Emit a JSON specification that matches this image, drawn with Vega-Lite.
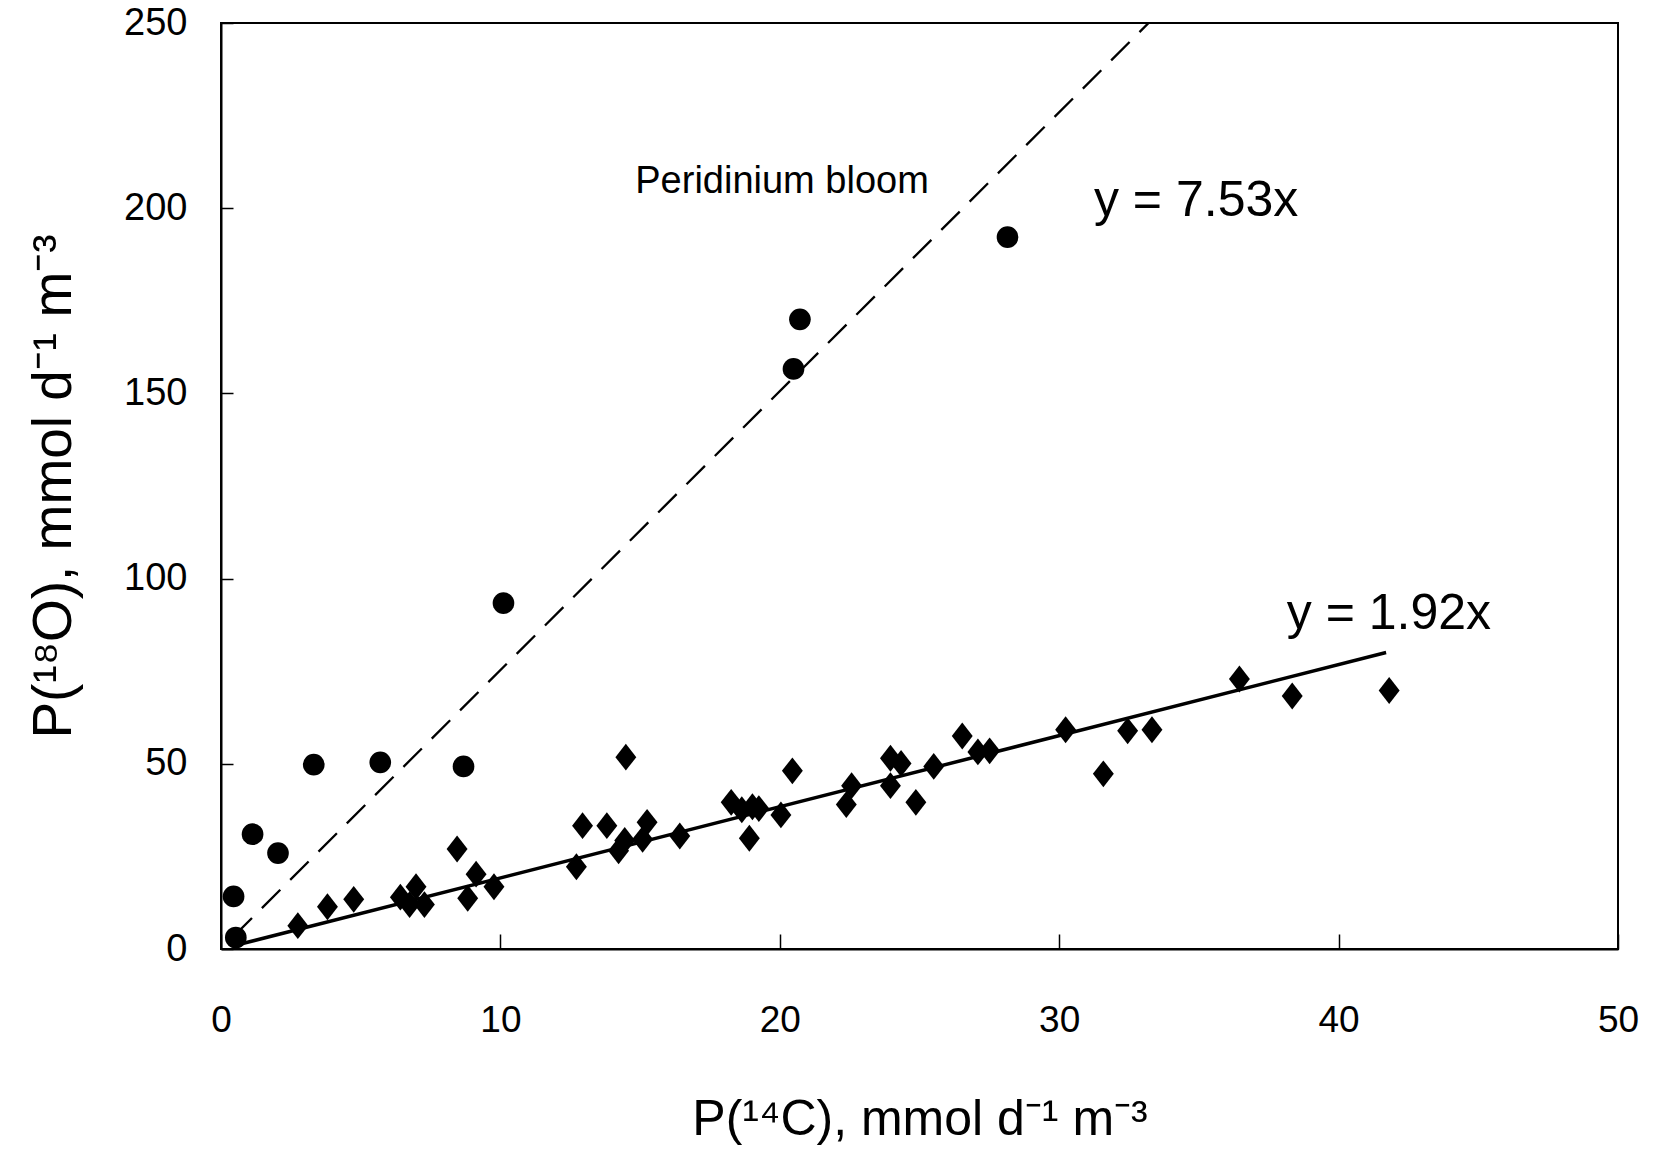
{
  "$schema": "https://vega.github.io/schema/vega-lite/v6.json",
  "autosize": {"type": "none"},
  "padding": {"left": 221, "top": 23, "right": 35, "bottom": 201},
  "width": 1397,
  "height": 926,
  "background": "white",
  "config": {
    "view": {"stroke": "black", "strokeWidth": 2},
    "font": "Liberation Sans",
    "axis": {"grid": false, "domainColor": "black", "domainWidth": 2, "tickColor": "black", "tickWidth": 1.5, "labelColor": "black", "titleColor": "black", "labelFont": "Liberation Sans", "titleFont": "Liberation Sans", "titleFontWeight": "normal", "labelFlush": false}
  },
  "datasets": {
    "bloom": [
      {"x": 0.45, "y": 14.2}, {"x": 0.53, "y": 3.1}, {"x": 1.13, "y": 31.0}, {"x": 2.04, "y": 25.9},
      {"x": 3.32, "y": 49.8}, {"x": 5.70, "y": 50.4}, {"x": 8.68, "y": 49.3}, {"x": 10.11, "y": 93.4},
      {"x": 20.49, "y": 156.6}, {"x": 20.72, "y": 170.0}, {"x": 28.15, "y": 192.2}
    ],
    "other": [
      {"x": 2.75, "y": 6.3}, {"x": 3.81, "y": 11.4}, {"x": 4.75, "y": 13.4}, {"x": 6.42, "y": 14.0},
      {"x": 6.75, "y": 12.0}, {"x": 6.98, "y": 16.8}, {"x": 7.28, "y": 12.0}, {"x": 8.45, "y": 27.0},
      {"x": 8.83, "y": 13.7}, {"x": 9.13, "y": 20.2}, {"x": 9.77, "y": 16.8}, {"x": 12.72, "y": 22.2},
      {"x": 12.94, "y": 33.3}, {"x": 13.81, "y": 33.3}, {"x": 14.23, "y": 26.5}, {"x": 14.45, "y": 29.3},
      {"x": 14.49, "y": 51.8}, {"x": 15.09, "y": 29.6}, {"x": 15.25, "y": 34.2}, {"x": 16.42, "y": 30.5},
      {"x": 18.26, "y": 39.6}, {"x": 18.64, "y": 37.6}, {"x": 18.91, "y": 29.9}, {"x": 19.02, "y": 38.4},
      {"x": 19.25, "y": 37.9}, {"x": 20.04, "y": 36.2}, {"x": 20.45, "y": 48.1}, {"x": 22.38, "y": 39.0},
      {"x": 22.57, "y": 44.1}, {"x": 23.96, "y": 44.1}, {"x": 23.96, "y": 51.5}, {"x": 24.34, "y": 50.1},
      {"x": 24.87, "y": 39.6}, {"x": 25.51, "y": 49.3}, {"x": 26.53, "y": 57.5}, {"x": 27.09, "y": 53.2},
      {"x": 27.51, "y": 53.5}, {"x": 30.23, "y": 59.2}, {"x": 31.58, "y": 47.3}, {"x": 32.45, "y": 58.9},
      {"x": 33.32, "y": 59.2}, {"x": 36.45, "y": 72.9}, {"x": 38.34, "y": 68.3}, {"x": 41.81, "y": 69.8}
    ],
    "fitBloom": [{"x": 0.45, "y": 3.4}, {"x": 33.2, "y": 250}],
    "fitOther": [{"x": 0.45, "y": 0.86}, {"x": 41.7, "y": 80.06}],
    "labels": [
      {"x": 20.08, "y": 207, "text": "Peridinium bloom", "kind": "small"},
      {"x": 34.9, "y": 202, "text": "y = 7.53x", "kind": "big"},
      {"x": 41.8, "y": 90.5, "text": "y = 1.92x", "kind": "big"}
    ]
  },
  "encoding": {
    "x": {"field": "x", "type": "quantitative", "scale": {"domain": [0, 50], "nice": false},
      "axis": {"values": [0, 10, 20, 30, 40, 50], "title": "P(¹⁴C), mmol d⁻¹ m⁻³", "labelFontSize": 37, "titleFontSize": 50, "tickSize": -15, "labelPadding": 68, "titleY": 170, "titleBaseline": "middle"}},
    "y": {"field": "y", "type": "quantitative", "scale": {"domain": [0, 250], "nice": false},
      "axis": {"values": [0, 50, 100, 150, 200, 250], "title": "P(¹⁸O), mmol d⁻¹ m⁻³", "labelFontSize": 38, "titleFontSize": 55, "tickSize": -12, "labelPadding": 46, "titleX": -168, "titleBaseline": "middle"}}
  },
  "layer": [
    {"data": {"name": "fitBloom"}, "mark": {"type": "line", "color": "black", "strokeWidth": 2.3, "strokeDash": [26, 14], "clip": true}},
    {"data": {"name": "fitOther"}, "mark": {"type": "line", "color": "black", "strokeWidth": 3.5}},
    {"data": {"name": "bloom"}, "mark": {"type": "point", "shape": "circle", "filled": true, "color": "black", "opacity": 1, "size": 470}},
    {"data": {"name": "other"}, "mark": {"type": "point", "shape": "M0,-1L0.78,0L0,1L-0.78,0Z", "filled": true, "color": "black", "opacity": 1, "size": 720}},
    {"data": {"name": "labels"}, "transform": [{"filter": "datum.kind === 'small'"}], "mark": {"type": "text", "fontSize": 38, "color": "black", "font": "Liberation Sans"}, "encoding": {"text": {"field": "text"}}},
    {"data": {"name": "labels"}, "transform": [{"filter": "datum.kind === 'big'"}], "mark": {"type": "text", "fontSize": 50, "color": "black", "font": "Liberation Sans"}, "encoding": {"text": {"field": "text"}}}
  ]
}
